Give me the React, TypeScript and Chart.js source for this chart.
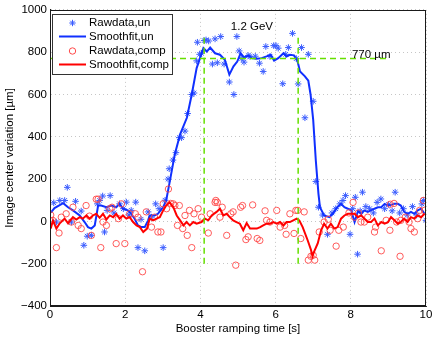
import React, { useEffect, useRef } from "react";
import { Chart, registerables } from "chart.js";
Chart.register(...registerables);

// Raw data (uncompensated) - blue stars
const rawUnT = [0.10, 0.17, 0.26, 0.39, 0.46, 0.57, 0.68, 0.83, 0.90, 0.99, 1.10, 1.26, 1.32, 1.40, 1.45, 1.52, 1.60, 1.70, 1.85, 1.95, 2.03, 2.10, 2.16, 2.28, 2.34, 2.42, 2.52, 2.61, 2.70, 2.81, 2.90, 3.01, 3.06, 3.14, 3.17, 3.27, 3.35, 3.44, 3.50, 3.59, 3.66, 3.77, 3.83, 3.90, 3.92, 3.98, 4.03, 4.10, 4.15, 4.22, 4.32, 4.39, 4.45, 4.54, 4.63, 4.77, 4.89, 4.97, 5.03, 5.10, 5.16, 5.27, 5.32, 5.46, 5.57, 5.67, 5.74, 5.85, 5.95, 6.01, 6.07, 6.19, 6.27, 6.34, 6.45, 6.55, 6.60, 6.69, 6.78, 6.87, 7.00, 7.07, 7.14, 7.25, 7.38, 7.50, 7.60, 7.71, 7.79, 7.86, 7.98, 8.05, 8.12, 8.18, 8.25, 8.31, 8.40, 8.50, 8.60, 8.70, 8.80, 8.90, 9.00, 9.10, 9.18, 9.30, 9.40, 9.50, 9.64, 9.75, 9.89, 9.93, 10.0];
const rawUnV = [88, -3, 99, 99, 161, -3, 95, 49, -113, -70, -66, 83, 99, 120, -50, 52, 122, 40, 83, 60, 91, 30, 52, 91, -124, 10, -139, 45, 20, 83, 60, -124, 100, 200, 249, 290, 325, 396, 396, 427, 510, 600, 607, 759, 847, 790, 795, 855, 858, 853, 744, 863, 750, 874, 744, 659, 600, 874, 806, 770, 753, 784, 780, 781, 748, 709, 827, 780, 831, 831, 819, 651, 790, 822, 889, 770, 650, 822, 490, 790, 568, 189, 67, 30, -61, 40, 60, 83, 99, 122, -61, 60, 114, -155, 50, 138, 70, 60, 40, 90, 106, 60, 80, 50, 138, 40, 60, 30, 70, 30, 83, 99, 5];

// Smooth fit (uncompensated) - blue line
const fitUnT = [0.02, 0.12, 0.35, 0.48, 0.61, 0.79, 0.92, 1.01, 1.10, 1.19, 1.28, 1.36, 1.50, 1.63, 1.76, 1.85, 1.94, 2.07, 2.16, 2.25, 2.34, 2.43, 2.52, 2.61, 2.65, 2.78, 2.87, 3.01, 3.09, 3.19, 3.32, 3.46, 3.64, 3.77, 3.90, 3.99, 4.08, 4.17, 4.26, 4.39, 4.52, 4.65, 4.77, 4.88, 4.98, 5.07, 5.16, 5.28, 5.36, 5.50, 5.63, 5.76, 5.87, 5.96, 6.07, 6.21, 6.29, 6.38, 6.49, 6.58, 6.65, 6.78, 6.87, 6.93, 7.00, 7.07, 7.14, 7.18, 7.29, 7.43, 7.52, 7.64, 7.74, 7.83, 7.92, 8.01, 8.10, 8.19, 8.28, 8.36, 8.45, 8.54, 8.63, 8.72, 8.81, 8.90, 8.99, 9.07, 9.16, 9.25, 9.33, 9.42, 9.51, 9.60, 9.69, 9.78, 9.87, 9.96];
const fitUnV = [41, 63, 86, 67, 52, 28, -3, -27, -34, -19, 75, 75, 67, 75, 67, 83, 60, 52, 36, 13, -19, -27, -27, 5, 28, 28, 36, 67, 99, 193, 318, 412, 490, 600, 725, 772, 819, 803, 822, 795, 788, 764, 694, 733, 756, 795, 775, 784, 772, 769, 772, 780, 788, 760, 772, 795, 780, 788, 785, 760, 709, 686, 665, 600, 480, 287, 130, 67, 28, 20, 36, 67, 83, 67, 60, 52, -3, 48, 36, 52, 45, 52, 60, 67, 67, 83, 75, 78, 83, 83, 75, 45, 36, 45, 36, 52, 60, 36];

// Raw data (compensated) - red circles
const rawCompT = [0.02, 0.07, 0.17, 0.24, 0.30, 0.43, 0.57, 0.61, 0.75, 0.83, 0.96, 1.05, 1.10, 1.23, 1.28, 1.35, 1.41, 1.50, 1.59, 1.65, 1.76, 1.82, 1.90, 1.99, 2.12, 2.27, 2.34, 2.46, 2.56, 2.70, 2.78, 2.87, 2.95, 3.01, 3.10, 3.15, 3.21, 3.28, 3.32, 3.39, 3.44, 3.53, 3.59, 3.65, 3.71, 3.77, 3.83, 3.94, 4.03, 4.21, 4.26, 4.39, 4.41, 4.45, 4.52, 4.58, 4.70, 4.81, 4.87, 4.94, 5.07, 5.12, 5.21, 5.27, 5.39, 5.51, 5.58, 5.72, 5.76, 5.85, 6.03, 6.12, 6.24, 6.28, 6.38, 6.49, 6.54, 6.59, 6.67, 6.76, 6.87, 6.94, 7.00, 7.04, 7.16, 7.29, 7.40, 7.45, 7.61, 7.68, 7.80, 7.95, 8.06, 8.10, 8.20, 8.27, 8.36, 8.45, 8.63, 8.66, 8.81, 8.94, 9.04, 9.05, 9.15, 9.22, 9.31, 9.33, 9.45, 9.55, 9.60, 9.69, 9.78, 9.83, 9.93, 9.96];
const rawCompV = [30, 5, -124, -55, 20, 36, -3, 67, -19, -34, 75, 25, -66, 105, 105, -124, -3, -19, 60, 67, -105, 13, 83, -105, 36, 36, 20, -238, 45, -27, 20, -50, -50, 83, 60, 153, 85, 83, 75, -19, 75, -34, 28, -66, 52, -124, 36, 60, 20, -55, 36, 90, 99, 90, 20, 67, -66, 36, 45, -207, 67, 75, -86, -73, 78, -81, -90, 50, 5, -3, 52, -27, -19, -61, 36, -57, 52, 52, -81, 45, -183, -165, -160, -183, -50, -3, 10, -42, -117, -42, -27, 40, 90, 20, 40, -3, -3, 20, -50, -27, -139, 5, -42, 81, 85, -3, -165, 5, 20, -3, -34, -50, 13, 52, 99, 52];

// Smooth fit (compensated) - red line
const fitCompT = [0.02, 0.08, 0.17, 0.26, 0.39, 0.48, 0.61, 0.70, 0.79, 0.87, 0.97, 1.05, 1.14, 1.23, 1.32, 1.41, 1.50, 1.59, 1.68, 1.76, 1.85, 1.94, 2.03, 2.12, 2.21, 2.30, 2.39, 2.48, 2.58, 2.65, 2.74, 2.83, 2.92, 3.01, 3.09, 3.18, 3.28, 3.37, 3.46, 3.55, 3.63, 3.72, 3.81, 3.90, 4.03, 4.12, 4.21, 4.30, 4.43, 4.52, 4.61, 4.70, 4.78, 4.87, 4.96, 5.05, 5.14, 5.23, 5.32, 5.41, 5.50, 5.59, 5.67, 5.76, 5.85, 5.94, 6.03, 6.12, 6.21, 6.29, 6.38, 6.47, 6.56, 6.63, 6.72, 6.85, 6.94, 6.98, 7.03, 7.12, 7.21, 7.29, 7.38, 7.47, 7.56, 7.65, 7.74, 7.83, 7.92, 8.01, 8.10, 8.19, 8.28, 8.36, 8.45, 8.54, 8.63, 8.72, 8.81, 8.90, 8.99, 9.07, 9.16, 9.25, 9.33, 9.42, 9.51, 9.60, 9.69, 9.78, 9.87, 9.96];
const fitCompV = [-34, 5, -34, -9, 13, -9, 20, 9, 20, 13, 28, 13, 28, 36, 17, 36, 9, 28, 20, 36, 13, 28, 13, 20, -3, -19, -27, -50, -34, 13, 5, 13, 20, 52, 75, 91, 67, 28, 5, -19, -3, -19, -3, -11, -3, 13, 5, 28, 45, 60, 28, 36, 20, 5, -3, -11, -42, -8, -34, -34, -34, -27, -19, -11, -11, -3, -11, -3, -19, -3, -3, 5, 13, 5, -27, -88, -134, -165, -141, -104, -42, -11, -34, -11, -34, -27, 13, 28, 36, 36, 36, 20, 28, 13, -3, -3, 13, -19, -3, -11, -3, 20, 5, -11, -3, 13, -3, 20, 13, 28, 20, 36];

// Reference guide lines
const guideEnergyT = [4.1, 6.6];
const guideLevel = 770;
const guideLevelEndT = 9;
const guideBottom = -200;
const guideTop = 870;

const xTicks = [0, 2, 4, 6, 8, 10];
const yTicks = [-400, -200, 0, 200, 400, 600, 800, 1000];

const seriesLabels = ["Rawdata,un", "Smoothfit,un", "Rawdata,comp", "Smoothfit,comp"];
const noteEnergy = "1.2 GeV";
const noteLevel = "770 µm";

const FONT = "'Liberation Sans', Arial, Helvetica, sans-serif";
const BLUE_PT = "#3a5cff";
const BLUE_LN = "#1030ff";
const RED_PT = "#ff4a4a";
const RED_LN = "#ff0000";
const GREEN = "#66e000";

const pts = (t: number[], v: number[]) => t.map((x, i) => ({ x, y: v[i] }));

function drawStar(ctx: CanvasRenderingContext2D, x: number, y: number, r: number) {
  ctx.beginPath();
  ctx.moveTo(x - r, y); ctx.lineTo(x + r, y);
  ctx.moveTo(x, y - r); ctx.lineTo(x, y + r);
  const d = r * 0.7071;
  ctx.moveTo(x - d, y - d); ctx.lineTo(x + d, y + d);
  ctx.moveTo(x - d, y + d); ctx.lineTo(x + d, y - d);
  ctx.stroke();
}

const overlay = {
  id: "overlay",
  afterDraw(chart: any) {
    const { ctx, chartArea: a, scales } = chart;
    const xs = scales.x, ys = scales.y;
    ctx.save();
    // plot box
    ctx.strokeStyle = "#1a1a1a";
    ctx.lineWidth = 1;
    ctx.setLineDash([]);
    ctx.strokeRect(Math.round(a.left) + 0.5, Math.round(a.top) + 0.5, Math.round(a.right - a.left) - 1, Math.round(a.bottom - a.top) - 1);

    // annotations
    ctx.fillStyle = "#000";
    ctx.font = `11.5px ${FONT}`;
    ctx.textBaseline = "middle";
    ctx.textAlign = "center";
    ctx.fillText(noteEnergy, xs.getPixelForValue(5.37), ys.getPixelForValue(920));
    ctx.textAlign = "left";
    ctx.fillText(noteLevel, xs.getPixelForValue(8.03), ys.getPixelForValue(789));

    // axis titles
    ctx.textAlign = "center";
    ctx.fillText("Booster ramping time [s]", (a.left + a.right) / 2, 329);
    ctx.save();
    ctx.translate(10, (a.top + a.bottom) / 2);
    ctx.rotate(-Math.PI / 2);
    ctx.fillText("Image center variation [µm]", 0, 0);
    ctx.restore();

    // legend
    const lx = 52.5, ly = 14.5, lw = 120, lh = 60;
    ctx.fillStyle = "#fff";
    ctx.fillRect(lx, ly, lw, lh);
    ctx.strokeStyle = "#333";
    ctx.lineWidth = 1;
    ctx.strokeRect(lx, ly, lw, lh);
    const rows = [23, 36.5, 51, 64.5];
    const sx = 72.5;
    // row 1 star
    ctx.strokeStyle = BLUE_PT; ctx.lineWidth = 1;
    drawStar(ctx, sx, rows[0], 3.2);
    // row 2 line
    ctx.strokeStyle = BLUE_LN; ctx.lineWidth = 2;
    ctx.beginPath(); ctx.moveTo(59, rows[1]); ctx.lineTo(86, rows[1]); ctx.stroke();
    // row 3 circle
    ctx.strokeStyle = RED_PT; ctx.lineWidth = 1;
    ctx.beginPath(); ctx.arc(sx, rows[2], 3.2, 0, Math.PI * 2); ctx.stroke();
    // row 4 line
    ctx.strokeStyle = RED_LN; ctx.lineWidth = 2;
    ctx.beginPath(); ctx.moveTo(59, rows[3]); ctx.lineTo(86, rows[3]); ctx.stroke();
    ctx.fillStyle = "#000";
    ctx.textAlign = "left";
    ctx.font = `11.5px ${FONT}`;
    seriesLabels.forEach((s, i) => ctx.fillText(s, 89, rows[i]));
    ctx.restore();
  },
};

export default function App() {
  const ref = useRef<HTMLCanvasElement | null>(null);
  useEffect(() => {
    document.body.style.margin = "0";
    const canvas = ref.current;
    if (!canvas) return;
    const greenDs = (data: { x: number; y: number }[]) => ({
      data,
      showLine: true,
      borderColor: GREEN,
      borderWidth: 1.5,
      borderDash: [6, 4],
      pointRadius: 0,
      order: 0,
    });
    const chart = new Chart(canvas, {
      type: "scatter",
      data: {
        datasets: [
          {
            label: seriesLabels[0],
            data: pts(rawUnT, rawUnV),
            pointStyle: "star",
            pointRadius: 3.3,
            borderColor: BLUE_PT,
            backgroundColor: BLUE_PT,
            borderWidth: 1,
            order: 4,
          } as any,
          {
            label: seriesLabels[1],
            data: pts(fitUnT, fitUnV),
            showLine: true,
            borderColor: BLUE_LN,
            borderWidth: 2,
            pointRadius: 0,
            order: 3,
          },
          {
            label: seriesLabels[2],
            data: pts(rawCompT, rawCompV),
            pointStyle: "circle",
            pointRadius: 3.2,
            borderColor: RED_PT,
            backgroundColor: "rgba(0,0,0,0)",
            borderWidth: 0.9,
            order: 2,
          },
          {
            label: seriesLabels[3],
            data: pts(fitCompT, fitCompV),
            showLine: true,
            borderColor: RED_LN,
            borderWidth: 2,
            pointRadius: 0,
            order: 1,
          },
          greenDs([{ x: 0, y: guideLevel }, { x: guideLevelEndT, y: guideLevel }]),
          greenDs([{ x: guideEnergyT[0], y: guideBottom }, { x: guideEnergyT[0], y: guideTop }]),
          greenDs([{ x: guideEnergyT[1], y: guideBottom }, { x: guideEnergyT[1], y: guideTop }]),
        ] as any,
      },
      options: {
        animation: false,
        responsive: false,
        maintainAspectRatio: false,
        layout: { padding: { top: 8, right: 10, left: 0, bottom: 0 } },
        plugins: { legend: { display: false }, tooltip: { enabled: false }, title: { display: false } },
        scales: {
          x: {
            type: "linear",
            min: 0,
            max: 10,
            afterFit: (s: any) => { s.height = 31; },
            afterBuildTicks: (s: any) => { s.ticks = xTicks.map((v) => ({ value: v })); },
            ticks: { color: "#000", font: { family: FONT, size: 11.5 }, padding: 2, maxRotation: 0, callback: (v: any) => String(v) },
            grid: { color: "#b8b8b8", lineWidth: 0.8, drawTicks: false, tickBorderDash: [1, 3] } as any,
            border: { display: true, color: "#1a1a1a", dash: [1, 3] } as any,
          },
          y: {
            type: "linear",
            min: -400,
            max: 1000,
            afterFit: (s: any) => { s.width = 50; },
            afterBuildTicks: (s: any) => { s.ticks = yTicks.map((v) => ({ value: v })); },
            ticks: {
              color: "#000",
              font: { family: FONT, size: 11.5 },
              padding: 3,
              callback: (v: any) => (Number(v) < 0 ? "\u2212" + Math.abs(Number(v)) : String(v)),
            },
            grid: { color: "#b8b8b8", lineWidth: 0.8, drawTicks: false } as any,
            border: { display: true, color: "#1a1a1a", dash: [1, 3] } as any,
          },
        },
      },
      plugins: [overlay],
    });
    return () => chart.destroy();
  }, []);
  return <canvas ref={ref} width={436} height={337} style={{ display: "block", width: 436, height: 337 }} />;
}
